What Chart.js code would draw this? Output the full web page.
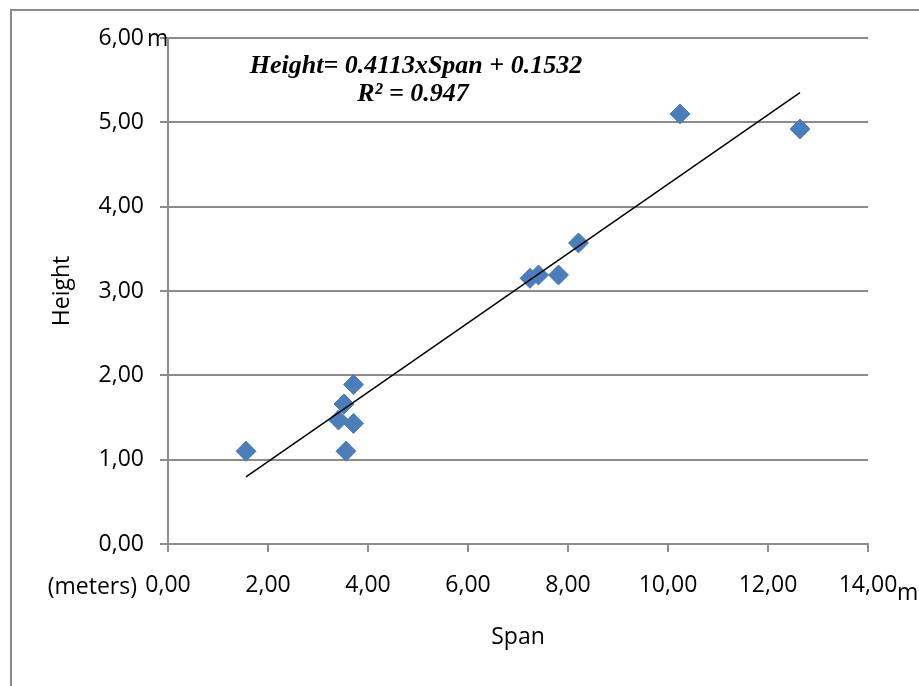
<!DOCTYPE html>
<html>
<head>
<meta charset="utf-8">
<script src="https://cdn.jsdelivr.net/npm/chart.js@4.4.1/dist/chart.umd.min.js"></script>
<style>
  html, body { margin: 0; padding: 0; background: #ffffff; }
  #wrap { position: relative; width: 919px; height: 686px; }
  canvas { display: block; }
</style>
</head>
<body>
<div id="wrap"><canvas id="c" width="919" height="686"></canvas></div>
<script>
// ---- Data ----
const spanValues   = [1.56, 3.56, 3.41, 3.52, 3.71, 3.71, 7.24, 7.41, 7.81, 8.21, 10.24, 12.64];
const heightValues = [1.10, 1.10, 1.47, 1.66, 1.89, 1.43, 3.15, 3.19, 3.19, 3.57, 5.10, 4.92];
const trendSlope = 0.4113;
const trendIntercept = 0.1532;
const equationLines = ['Height= 0.4113xSpan + 0.1532', 'R\u00B2 = 0.947'];
const xTitle = 'Span';
const yTitle = 'Height';
const unitLabel = 'm';
const xUnitsNote = '(meters)';
const xMin = 0, xMax = 14, xStep = 2;
const yMin = 0, yMax = 6, yStep = 1;

// ---- Build datasets ----
const points = spanValues.map((s, i) => ({ x: s, y: heightValues[i] }));
const xLo = Math.min(...spanValues), xHi = Math.max(...spanValues);
const trend = [
  { x: xLo, y: trendSlope * xLo + trendIntercept },
  { x: xHi, y: trendSlope * xHi + trendIntercept }
];

const fmt = v => v.toFixed(2).replace('.', ',');
const TICK_FONT = { family: '"Open Sans"', size: 23 };
const GRID = '#8c8c8c';

const extras = {
  id: 'extras',
  beforeDraw(chart) {
    const ctx = chart.ctx;
    ctx.save();
    ctx.fillStyle = '#ffffff';
    ctx.fillRect(0, 0, chart.width, chart.height);
    ctx.strokeStyle = '#8a8a8a';
    ctx.lineWidth = 2;
    ctx.strokeRect(11, 10, 1000, 1000);
    ctx.restore();
  },
  afterDraw(chart) {
    const ctx = chart.ctx;
    const ys = chart.scales.y;
    ctx.save();
    ctx.fillStyle = '#000000';
    ctx.font = '23px "Open Sans"';
    ctx.textBaseline = 'alphabetic';
    ctx.textAlign = 'left';
    ctx.fillText(unitLabel, 147, ys.getPixelForValue(yMax) + 8);
    ctx.fillText(unitLabel, 897, 600);
    ctx.textAlign = 'right';
    ctx.fillText(xUnitsNote, 137, 594);
    ctx.font = 'italic bold 26px "Liberation Serif"';
    ctx.textAlign = 'center';
    ctx.fillText(equationLines[0], 416, 73);
    ctx.fillText(equationLines[1], 413, 101);
    ctx.restore();
  }
};

new Chart(document.getElementById('c'), {
  type: 'scatter',
  data: {
    datasets: [
      {
        type: 'line',
        label: 'Trend',
        data: trend,
        borderColor: '#000000',
        borderWidth: 1.5,
        pointRadius: 0,
        fill: false,
        order: 0
      },
      {
        label: 'Height',
        data: points,
        pointStyle: 'rectRot',
        pointRadius: 10,
        pointHoverRadius: 10,
        backgroundColor: '#4a7ebb',
        borderColor: '#4a7ebb',
        borderWidth: 1,
        order: 1
      }
    ]
  },
  options: {
    responsive: false,
    animation: false,
    events: [],
    layout: { padding: { left: 0, top: 38, right: 51, bottom: 0 } },
    plugins: { legend: { display: false }, tooltip: { enabled: false } },
    scales: {
      x: {
        type: 'linear',
        min: xMin, max: xMax,
        afterFit: s => { s.height = 142; s.paddingLeft = 0; s.paddingRight = 0; },
        ticks: { stepSize: xStep, callback: v => fmt(v), font: TICK_FONT, color: '#000', padding: 20, maxRotation: 0 },
        grid: { drawOnChartArea: false, drawTicks: true, tickLength: 8, color: GRID, lineWidth: 2 },
        border: { display: true, color: GRID, width: 2 },
        title: { display: true, text: xTitle, font: TICK_FONT, color: '#000', padding: { top: 0, bottom: 35 } }
      },
      y: {
        type: 'linear',
        min: yMin, max: yMax,
        afterFit: s => { s.width = 168; s.paddingTop = 0; s.paddingBottom = 0; },
        ticks: { stepSize: yStep, callback: v => fmt(v), font: TICK_FONT, color: '#000', padding: 16 },
        grid: { drawOnChartArea: true, drawTicks: true, tickLength: 8, color: GRID, lineWidth: 2 },
        border: { display: true, color: GRID, width: 2 },
        title: { display: true, text: yTitle, font: TICK_FONT, color: '#000', padding: { top: 49, bottom: 0 } }
      }
    }
  },
  plugins: [extras]
});
</script>
</body>
</html>
